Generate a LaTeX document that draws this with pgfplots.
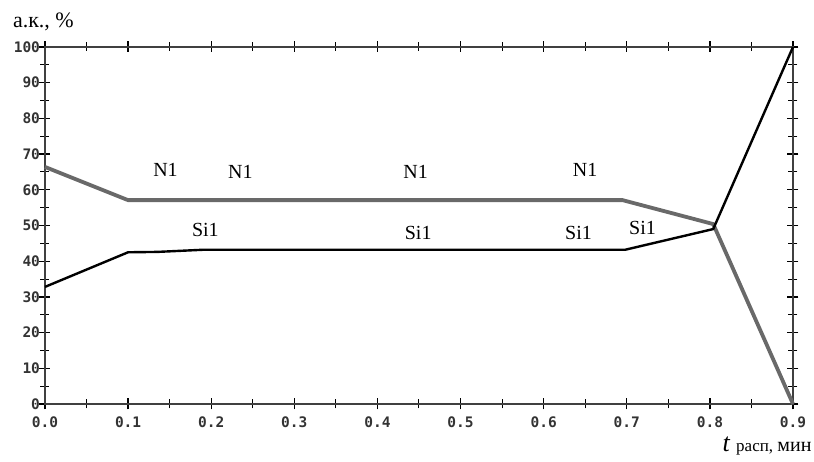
\documentclass[border=0pt]{standalone}
\usepackage{fontspec}
\setmainfont{Liberation Serif}
\setmonofont{DejaVu Sans Mono}
\usepackage{pgfplots}
\pgfplotsset{compat=1.18}
\definecolor{ngray}{RGB}{105,105,105}
\begin{document}
\begin{tikzpicture}
\useasboundingbox (-45pt,-58pt) rectangle (769pt,404pt);
\begin{axis}[
  at={(0pt,0pt)}, anchor=south west,
  scale only axis,
  width=748pt, height=357pt,
  xmin=0, xmax=0.9, ymin=0, ymax=100,
  xtick={0,0.1,...,0.9},
  minor xtick={0.05,0.15,...,0.85},
  ytick={0,10,...,100},
  minor ytick={5,15,...,95},
  tick align=center,
  major tick length=11pt,
  minor tick length=9pt,
  every tick/.style={black, line width=1.3pt},
  minor tick style={line width=1pt},
  axis line style={line width=1.5pt, black!75},
  /pgf/number format/assume math mode=true,
  xticklabel style={font=\fontsize{14.5}{14.5}\selectfont\ttfamily\bfseries, text=black!80, /pgf/number format/fixed, /pgf/number format/zerofill, /pgf/number format/precision=1, yshift=-4pt},
  yticklabel style={font=\fontsize{14.5}{14.5}\selectfont\ttfamily\bfseries, text=black!80, xshift=4pt},
  xticklabel pos=lower, yticklabel pos=left,
  clip=false,
  xlabel={\fontsize{26}{26}\selectfont\itshape t\ \fontsize{17}{17}\selectfont\upshape расп, \fontsize{20}{20}\selectfont мин},
  xlabel style={at={(axis description cs:1.025,-0.132)}, anchor=base east, inner sep=0pt},
  ylabel={\fontsize{22}{22}\selectfont а.к., \%},
  ylabel style={rotate=-90, at={(axis description cs:-0.043,1.056)}, anchor=base west, inner sep=0pt},
]
\addplot[ngray, line width=3.8pt] coordinates {(0,66.4) (0.1,57.1) (0.695,57.1) (0.804,50.4) (0.9,0)};
\addplot[black, line width=2.4pt] coordinates {(0,32.8) (0.1,42.5) (0.135,42.6) (0.19,43.2) (0.698,43.2) (0.804,49) (0.9,100)};
\tikzset{lbl/.style={font=\fontsize{20}{20}\selectfont, anchor=center}}
\node[lbl] at (axis cs:0.145,65.5) {N1};
\node[lbl] at (axis cs:0.235,65) {N1};
\node[lbl] at (axis cs:0.446,65) {N1};
\node[lbl] at (axis cs:0.65,65.5) {N1};
\node[lbl] at (axis cs:0.193,48.7) {Si1};
\node[lbl] at (axis cs:0.449,48) {Si1};
\node[lbl] at (axis cs:0.642,48) {Si1};
\node[lbl] at (axis cs:0.719,49.3) {Si1};
\end{axis}
\end{tikzpicture}
\end{document}
